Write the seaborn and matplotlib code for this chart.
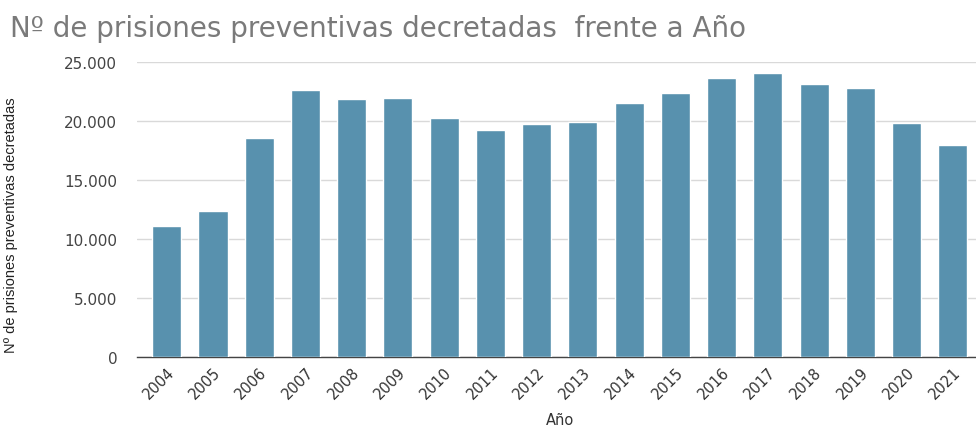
import matplotlib
matplotlib.use("Agg")
import matplotlib.pyplot as plt
import matplotlib.ticker as mticker
import seaborn as sns
import pandas as pd

anios = ['2004', '2005', '2006', '2007', '2008', '2009', '2010', '2011', '2012',
         '2013', '2014', '2015', '2016', '2017', '2018', '2019', '2020', '2021']
prisiones = [11080, 12350, 18560, 22650, 21840, 21980, 20250, 19200, 19720,
             19940, 21550, 22400, 23640, 24070, 23140, 22800, 19860, 18000]

df = pd.DataFrame({'Año': anios, 'Prisiones': prisiones})

sns.set_theme(style='white')
plt.rcParams['font.family'] = ['DejaVu Sans']

fig = plt.figure(figsize=(9.76, 4.31), dpi=100)
ax = fig.add_axes([0.140, 0.169, 0.860, 0.685])

sns.barplot(data=df, x='Año', y='Prisiones', color='#5891ae', saturation=1,
            width=0.63, ax=ax, zorder=3)

ax.set_ylim(0, 25000)
ax.set_xlim(-0.65, 17.5)
ax.yaxis.set_major_locator(mticker.MultipleLocator(5000))
ax.yaxis.set_major_formatter(mticker.FuncFormatter(lambda v, p: f'{int(v):,}'.replace(',', '.')))
ax.grid(axis='y', color='#d9d9d9', linewidth=1, zorder=0)
for s in ['top', 'right', 'left']:
    ax.spines[s].set_visible(False)
ax.spines['bottom'].set_color('#444444')
ax.spines['bottom'].set_linewidth(1)

ax.tick_params(axis='y', length=0, pad=14, labelsize=11, labelcolor='#444444')
ax.tick_params(axis='x', length=0, pad=5, labelsize=10.5, labelcolor='#333333')
for lbl in ax.get_xticklabels():
    lbl.set_rotation(45)
    lbl.set_ha('right')
    lbl.set_rotation_mode('anchor')

ax.set_xlabel('Año', fontsize=10.5, color='#333333')
ax.xaxis.set_label_coords(0.504, -0.185)
ax.set_ylabel('Nº de prisiones preventivas decretadas', fontsize=10.5, color='#222222',
              family=['Liberation Sans Narrow', 'Liberation Sans', 'DejaVu Sans'])
ax.yaxis.set_label_coords(-0.141, 0.45)

fig.text(0.010, 0.914, 'Nº de prisiones preventivas decretadas  frente a Año',
         fontsize=20, color='#7a7a7a', va='baseline')

fig.savefig('out.png', dpi=100)
